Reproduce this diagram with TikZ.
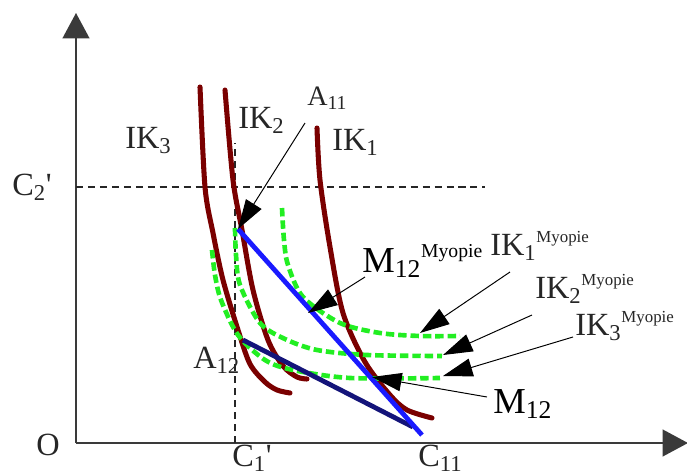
\documentclass[tikz,border=0pt]{standalone}
\usepackage{fontspec}
\setmainfont{Liberation Serif}
\usepackage{xcolor}
\usetikzlibrary{arrows.meta}
\definecolor{ikred}{HTML}{7A0000}
\definecolor{myogreen}{HTML}{22EE22}
\definecolor{budblue}{HTML}{1A1AFF}
\definecolor{budnavy}{HTML}{14147A}
\definecolor{axisgray}{HTML}{3A3A3A}
\newcommand{\supmyo}[2]{\raisebox{#1}{\fontsize{#2}{#2}\selectfont Myopie}}

\tikzset{
  axis/.style={axisgray,line width=1.3pt,-{Triangle[length=18pt,width=19pt]}},
  guide/.style={black!85,line width=0.8pt,dash pattern=on 5pt off 3.5pt},
  ikcurve/.style={ikred,line width=3.6pt,line cap=round},
  myocurve/.style={myogreen,line width=3.3pt,dash pattern=on 6pt off 2.8pt},
  budline/.style={line width=3.4pt},
  pointer/.style={black,line width=0.7pt,-{Triangle[length=21pt,width=13pt]}},
  lbl/.style={inner sep=0pt,font=\fontsize{23}{26}\selectfont,text=black!85},
  mlbl/.style={inner sep=0pt,font=\fontsize{26}{28}\selectfont,text=black},
}

\begin{document}
\begin{tikzpicture}[x=0.025cm,y=-0.025cm]
  \useasboundingbox (0,0) rectangle (687,475);

  % axes
  \coordinate (origin) at (76,443);
  \coordinate (ytop) at (76,13);
  \coordinate (xend) at (688,443);
  \draw[axis] (origin) -- (ytop);
  \draw[axis] (origin) -- (xend);

  % guides for C1' and C2'
  \draw[guide] (76,187) -- (485,187);
  \draw[guide] (235,443) -- (235,143);

  % indifference curves
  \draw[ikcurve] plot[smooth] coordinates {(200,87) (205,187) (213,233) (223,280) (238,330) (250,364) (265,382) (277,390) (290,393)};
  \draw[ikcurve] plot[smooth] coordinates {(225,90) (233,180) (242,230) (253,290) (268,340) (283,366) (297,377) (307,379)};
  \draw[ikcurve] plot[smooth] coordinates {(317,128) (320,180) (330,247) (343,313) (365,362) (390,395) (407,410) (432,418)};

  % myopic curves
  \draw[myocurve] plot[smooth] coordinates {(282,208) (284,240) (288,265) (303,297) (340,323) (380,333) (420,336) (460,336)};
  \draw[myocurve] plot[smooth] coordinates {(235,228) (236,255) (240,285) (260,323) (285,339) (317,350) (367,355) (442,356)};
  \draw[myocurve] plot[smooth] coordinates {(212,250) (215,275) (221,300) (238,335) (265,360) (293,370) (350,378) (440,378)};

  % budget lines
  \coordinate (a11) at (238,229);
  \coordinate (a12) at (243,340);
  \coordinate (c11) at (422,435);
  \coordinate (c11b) at (413,427);
  \draw[budline,budnavy] (a12) -- (c11b);
  \draw[budline,budblue] (a11) -- (c11);

  % labels
  \node[lbl] (olbl) at (48,445) {O};
  \node[lbl,anchor=base west] (c2lbl) at (12,195) {C\textsubscript{2}\textquotesingle};
  \node[lbl,anchor=base west] (c1lbl) at (232,466) {C\textsubscript{1}\textquotesingle};
  \node[lbl,anchor=base west] (c11lbl) at (418,466) {C\textsubscript{11}};
  \node[lbl,anchor=base west] (ik3lbl) at (125,148) {IK\textsubscript{3}};
  \node[lbl,anchor=base west] (ik2lbl) at (238,128) {IK\textsubscript{2}};
  \node[lbl,anchor=base west] (ik1lbl) at (332,150) {IK\textsubscript{1}};
  \node[lbl,anchor=base west,font=\fontsize{20}{22}\selectfont] (a11lbl) at (307,105) {A\textsubscript{11}};
  \node[lbl,anchor=base west] (a12lbl) at (193,368) {A\textsubscript{12}};
  \node[mlbl,anchor=base west] (m12mlbl) at (362,272) {M\textsubscript{12}\supmyo{10pt}{14}};
  \node[lbl,anchor=base west] (ik1mlbl) at (490,255) {IK\textsubscript{1}\supmyo{9pt}{12}};
  \node[lbl,anchor=base west] (ik2mlbl) at (535,298) {IK\textsubscript{2}\supmyo{9pt}{12}};
  \node[lbl,anchor=base west] (ik3mlbl) at (575,335) {IK\textsubscript{3}\supmyo{9pt}{12}};
  \node[mlbl,anchor=base west] (m12lbl) at (493,413) {M\textsubscript{12}};

  % pointers
  \coordinate (a11from) at (305,123);
  \coordinate (m12mfrom) at (365,277);
  \coordinate (m12mtip) at (308,313);
  \coordinate (ik1from) at (510,272);
  \coordinate (ik1tip) at (420,333);
  \coordinate (ik2from) at (532,315);
  \coordinate (ik2tip) at (443,355);
  \coordinate (ik3from) at (573,337);
  \coordinate (ik3tip) at (443,376);
  \coordinate (m12from) at (487,397);
  \coordinate (m12tip) at (372,377);
  \draw[pointer] (a11from) -- (a11);
  \draw[pointer] (m12mfrom) -- (m12mtip);
  \draw[pointer] (ik1from) -- (ik1tip);
  \draw[pointer] (ik2from) -- (ik2tip);
  \draw[pointer] (ik3from) -- (ik3tip);
  \draw[pointer] (m12from) -- (m12tip);
\end{tikzpicture}
\end{document}
